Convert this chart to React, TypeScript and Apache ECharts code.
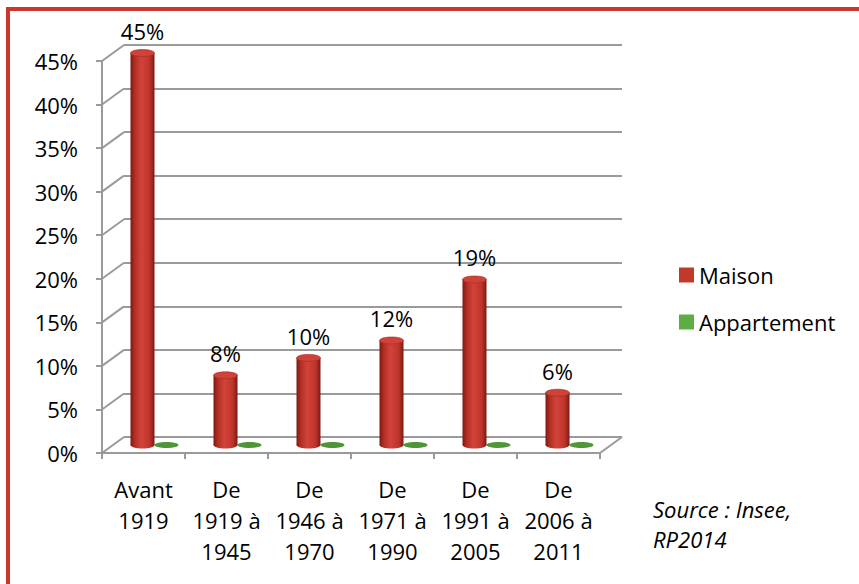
import React, { useEffect, useRef } from "react";
import * as echarts from "echarts";

const categories = [
  "Avant\n1919",
  "De\n1919 à\n1945",
  "De\n1946 à\n1970",
  "De\n1971 à\n1990",
  "De\n1991 à\n2005",
  "De\n2006 à\n2011",
];
const maison = [45, 8, 10, 12, 19, 6];
const appartement = [0, 0, 0, 0, 0, 0];
const yTicks = [0, 5, 10, 15, 20, 25, 30, 35, 40, 45];
const sourceLines = ["Source : Insee,", "RP2014"];

const FONT = "'Open Sans', 'Noto Sans', sans-serif";
const FS = 22;
const DX = 22;
const DY = 16;
const GRID_COLOR = "#9a9a9a";
const RED = "#C0392B";
const GREEN = "#5EAC44";

export default function App() {
  const ref = useRef<HTMLDivElement>(null);

  useEffect(() => {
    if (!ref.current) return;
    const chart = echarts.init(ref.current, undefined, { renderer: "svg" });

    const cylGrad = () =>
      new echarts.graphic.LinearGradient(0, 0, 1, 0, [
        { offset: 0, color: "#7e1810" },
        { offset: 0.18, color: "#b22e24" },
        { offset: 0.45, color: "#d2433a" },
        { offset: 0.8, color: "#bd342b" },
        { offset: 1, color: "#7a1a12" },
      ]);

    const option: any = {
      animation: false,
      backgroundColor: "#ffffff",
      textStyle: { fontFamily: FONT },
      legend: {
        orient: "vertical",
        left: 674,
        top: 259,
        icon: "rect",
        itemWidth: 15,
        itemHeight: 15,
        itemGap: 25,
        selectedMode: false,
        textStyle: { fontSize: FS, color: "#000", fontFamily: FONT },
        data: [
          { name: "Maison", itemStyle: { color: RED } },
          { name: "Appartement", itemStyle: { color: GREEN } },
        ],
      },
      grid: [
        { left: 102, top: 61, width: 498, height: 392 },
        { left: 124, top: 45, width: 498, height: 392 },
      ],
      xAxis: [
        {
          gridIndex: 0,
          type: "category",
          data: categories,
          boundaryGap: true,
          axisLine: { show: true, lineStyle: { color: GRID_COLOR, width: 2 } },
          axisTick: { show: true, length: 6, lineStyle: { color: GRID_COLOR, width: 2 } },
          axisLabel: {
            fontSize: FS,
            color: "#000",
            lineHeight: 31,
            margin: 20,
            fontFamily: FONT,
            interval: 0,
          },
        },
        {
          gridIndex: 1,
          type: "category",
          data: categories,
          show: false,
        },
      ],
      yAxis: [
        {
          gridIndex: 0,
          type: "value",
          min: 0,
          max: 45,
          interval: 5,
          axisLine: { show: true, lineStyle: { color: GRID_COLOR, width: 2 } },
          axisTick: { show: true, length: 6, lineStyle: { color: GRID_COLOR, width: 2 } },
          axisLabel: {
            formatter: "{value}%",
            fontSize: FS,
            color: "#000",
            margin: 24,
            fontFamily: FONT,
          },
          splitLine: { show: false },
        },
        {
          gridIndex: 1,
          type: "value",
          min: 0,
          max: 45,
          interval: 5,
          axisLine: { show: false },
          axisTick: { show: false },
          axisLabel: { show: false },
          splitLine: { show: true, lineStyle: { color: GRID_COLOR, width: 2 } },
        },
      ],
      series: [
        {
          type: "custom",
          name: "walls",
          xAxisIndex: 0,
          yAxisIndex: 0,
          silent: true,
          z: 1,
          data: yTicks.map((v) => [0, v]),
          encode: { x: 0, y: 1 },
          renderItem: (params: any, api: any) => {
            const v = api.value(1);
            const y = api.coord([0, v])[1];
            const cs = params.coordSys;
            const children: any[] = [
              {
                type: "line",
                shape: { x1: cs.x, y1: y, x2: cs.x + DX, y2: y - DY },
                style: { stroke: GRID_COLOR, lineWidth: 2 },
              },
            ];
            if (v === 0) {
              children.push({
                type: "line",
                shape: { x1: cs.x + cs.width, y1: y, x2: cs.x + cs.width + DX, y2: y - DY },
                style: { stroke: GRID_COLOR, lineWidth: 2 },
              });
            }
            return { type: "group", children };
          },
        },
        {
          type: "custom",
          name: "Maison",
          xAxisIndex: 0,
          yAxisIndex: 0,
          z: 5,
          itemStyle: { color: RED },
          data: maison.map((v, i) => [i, v]),
          encode: { x: 0, y: 1 },
          renderItem: (params: any, api: any) => {
            const i = api.value(0);
            const v = api.value(1);
            const top = api.coord([i, v]);
            const base = api.coord([i, 0]);
            const cx = top[0] + DX / 2 - 12;
            const topY = top[1] - DY / 2;
            const botY = base[1] - DY / 2;
            const rx = 12;
            const ry = 3.5;
            return {
              type: "group",
              children: [
                {
                  type: "ellipse",
                  shape: { cx, cy: botY, rx, ry },
                  style: { fill: cylGrad() },
                },
                {
                  type: "rect",
                  shape: { x: cx - rx, y: topY, width: rx * 2, height: botY - topY },
                  style: { fill: cylGrad() },
                },
                {
                  type: "ellipse",
                  shape: { cx, cy: topY, rx, ry },
                  style: { fill: "#cf4238", stroke: "#a82a20", lineWidth: 0.6 },
                },
                {
                  type: "text",
                  style: {
                    text: v + "%",
                    x: cx,
                    y: topY - 22,
                    align: "center",
                    verticalAlign: "middle",
                    fontSize: FS,
                    fontFamily: FONT,
                    fill: "#000",
                  },
                },
              ],
            };
          },
        },
        {
          type: "custom",
          name: "Appartement",
          xAxisIndex: 0,
          yAxisIndex: 0,
          z: 5,
          itemStyle: { color: GREEN },
          data: appartement.map((v, i) => [i, v]),
          encode: { x: 0, y: 1 },
          renderItem: (params: any, api: any) => {
            const i = api.value(0);
            const v = api.value(1);
            const top = api.coord([i, v]);
            const cx = top[0] + DX / 2 + 12;
            const cy = top[1] - DY / 2;
            return {
              type: "ellipse",
              shape: { cx, cy, rx: 12, ry: 3 },
              style: { fill: "#4e9636" },
            };
          },
        },
      ],
      graphic: [
        {
          type: "rect",
          shape: { x: 8, y: 9, width: 920, height: 640 },
          style: { fill: "none", stroke: "#C8392C", lineWidth: 4 },
          z: 100,
        },
        {
          type: "text",
          x: 653,
          y: 494,
          style: {
            text: sourceLines.join("\n"),
            fontSize: FS,
            fontStyle: "italic",
            fontFamily: FONT,
            lineHeight: 30,
            fill: "#000",
          },
        },
      ],
    };

    chart.setOption(option);
    return () => chart.dispose();
  }, []);

  return (
    <div
      ref={ref}
      style={{ position: "fixed", left: 0, top: 0, width: 859, height: 584 }}
    />
  );
}
